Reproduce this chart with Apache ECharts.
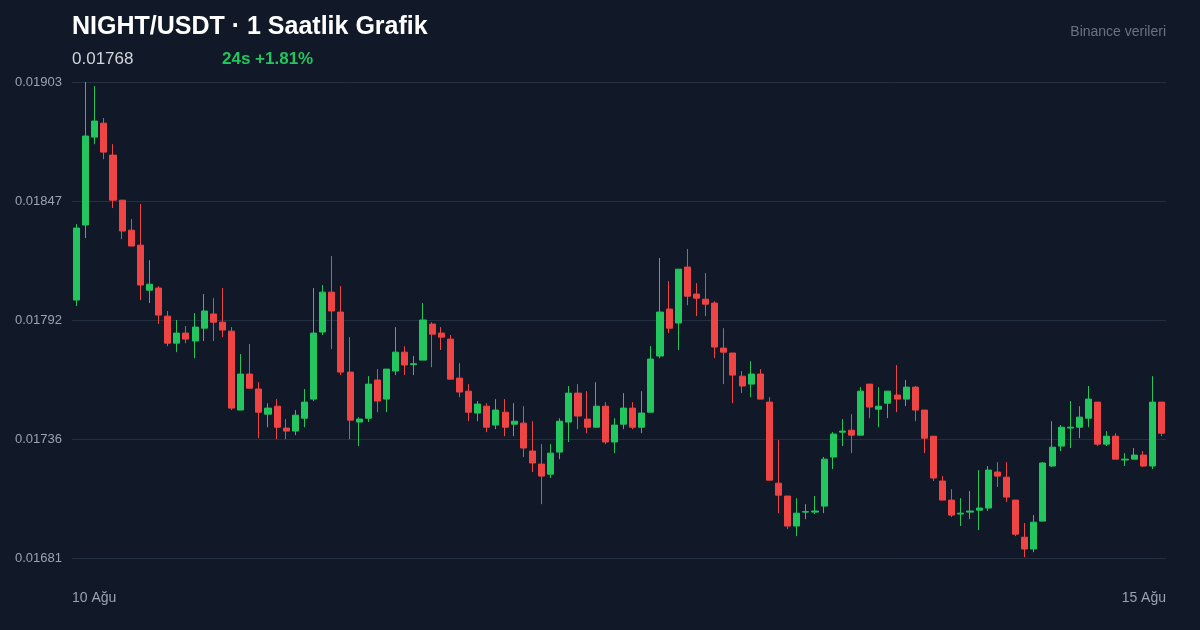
<!DOCTYPE html>
<html><head><meta charset="utf-8">
<script src="https://cdn.jsdelivr.net/npm/echarts@6/dist/echarts.min.js"></script>
<style>html,body{margin:0;background:#111827}#c{width:1200px;height:630px}</style>
</head><body><div id="c"></div>
<script>
const opens=[18013,18363,18773,18838,18689,18479,18339,18269,18059,18069,17938,17812,17859,17822,17882,17948,17910,17868,17500,17668,17598,17481,17518,17416,17402,17462,17551,17864,18050,17957,17677,17444,17462,17640,17551,17682,17770,17712,17733,17901,17859,17831,17649,17588,17486,17518,17430,17490,17434,17439,17309,17248,17201,17304,17444,17579,17458,17420,17518,17351,17434,17509,17420,17490,17752,17971,17906,18167,18041,18017,17999,17789,17766,17658,17621,17668,17537,17159,17099,16959,17024,17024,17052,17281,17397,17406,17383,17621,17504,17532,17570,17551,17607,17500,17378,17169,17080,17015,17024,17033,17043,17211,17187,17080,16907,16852,16982,17239,17332,17416,17420,17462,17537,17341,17378,17267,17271,17290,17239,17537];
const closes=[18349,18778,18848,18703,18479,18335,18265,18083,18087,17943,17812,17859,17831,17887,17962,17910,17873,17509,17668,17602,17490,17509,17420,17402,17476,17537,17859,18050,17962,17677,17453,17458,17621,17542,17691,17770,17710,17716,17920,17854,17840,17644,17584,17490,17528,17420,17500,17420,17448,17323,17253,17192,17299,17448,17579,17472,17420,17518,17351,17430,17509,17420,17486,17738,17957,17882,18157,18031,18022,17994,17794,17770,17663,17612,17668,17551,17173,17103,16959,17019,17026,17029,17271,17388,17402,17383,17588,17514,17518,17588,17551,17607,17500,17369,17183,17080,17010,17019,17029,17043,17220,17192,17094,16921,16852,16977,17253,17327,17420,17420,17467,17551,17341,17378,17271,17271,17290,17239,17537,17392];
const lows=[17985,18302,18740,18670,18442,18297,18265,18013,17999,17901,17798,17770,17812,17742,17822,17822,17840,17500,17500,17602,17369,17420,17364,17364,17383,17420,17542,17850,17784,17663,17364,17332,17444,17490,17490,17663,17663,17663,17733,17700,17780,17644,17560,17448,17448,17397,17411,17378,17378,17281,17211,17061,17183,17271,17351,17411,17392,17420,17341,17299,17411,17411,17392,17490,17742,17859,17780,17989,17938,17938,17742,17621,17532,17579,17560,17551,17173,17019,16945,16912,16991,17015,17019,17225,17332,17299,17383,17462,17420,17462,17490,17518,17448,17299,17169,17080,17001,16959,16991,16940,17029,17141,17071,16912,16814,16837,16982,17234,17309,17323,17369,17420,17332,17332,17271,17239,17271,17234,17225,17378];
const highs=[18367,19030,19011,18862,18740,18479,18391,18461,18199,18078,17962,17920,17892,17952,18041,18022,18069,17887,17761,17808,17630,17532,17551,17458,17500,17598,18069,18083,18218,18078,17840,17467,17658,17691,17691,17887,17798,17752,17999,17910,17887,17850,17719,17621,17542,17532,17551,17551,17532,17518,17448,17341,17341,17462,17612,17621,17588,17630,17537,17462,17579,17537,17588,17798,18209,18101,18157,18251,18092,18139,18008,17882,17766,17682,17728,17691,17560,17360,17099,17089,17061,17099,17281,17397,17458,17481,17607,17621,17607,17588,17710,17640,17612,17500,17378,17192,17131,17089,17122,17220,17239,17257,17257,17080,16973,17010,17257,17448,17430,17542,17518,17612,17537,17402,17392,17299,17323,17309,17658,17537];
const yTickLabels=['0.01681','0.01736','0.01792','0.01847','0.01903'];
const xEdgeLabels=['10 Ağu','15 Ağu'];
const categories=opens.map((_,i)=>'h'+i);
const S=1e-6;
const data=opens.map((o,i)=>[o*S,closes[i]*S,lows[i]*S,highs[i]*S]);
const yMin=0.01681,yMax=0.01903,yInt=0.000555;
const chart=echarts.init(document.getElementById('c'));
chart.setOption({
  backgroundColor:'#111827',animation:false,
  grid:{left:72,right:34,top:82,bottom:72},
  xAxis:{type:'category',data:categories,boundaryGap:true,axisLine:{show:false},axisTick:{show:false},axisLabel:{show:false},splitLine:{show:false}},
  yAxis:{type:'value',min:yMin,max:yMax,interval:yInt,
    axisLine:{show:false},axisTick:{show:false},
    splitLine:{lineStyle:{color:'#243041',width:1}},
    axisLabel:{color:'#9ca3af',fontSize:13,fontFamily:'Liberation Sans, Arial',margin:10,
      formatter:v=>yTickLabels[Math.round((v-yMin)/yInt)]||''}},
  series:[{type:'candlestick',data:data,barWidth:'72%',
    itemStyle:{color:'#22c55e',color0:'#ef4444',borderColor:'#22c55e',borderColor0:'#ef4444',borderWidth:1}}],
  graphic:[
    {type:'text',left:72,top:15,style:{text:'NIGHT/USDT · 1 Saatlik Grafik',fill:'#ffffff',font:'bold 25px Liberation Sans, Arial'}},
    {type:'text',left:72,top:51,style:{text:'0.01768',fill:'#d1d5db',font:'17px Liberation Sans, Arial'}},
    {type:'text',left:222,top:51,style:{text:'24s +1.81%',fill:'#22c55e',font:'bold 17px Liberation Sans, Arial'}},
    {type:'text',right:34,top:25,style:{text:'Binance verileri',fill:'#6b7280',font:'14px Liberation Sans, Arial'}},
    {type:'text',left:72,top:591,style:{text:xEdgeLabels[0],fill:'#9ca3af',font:'14px Liberation Sans, Arial'}},
    {type:'text',right:34,top:591,style:{text:xEdgeLabels[1],fill:'#9ca3af',font:'14px Liberation Sans, Arial'}}
  ]
});
</script></body></html>
